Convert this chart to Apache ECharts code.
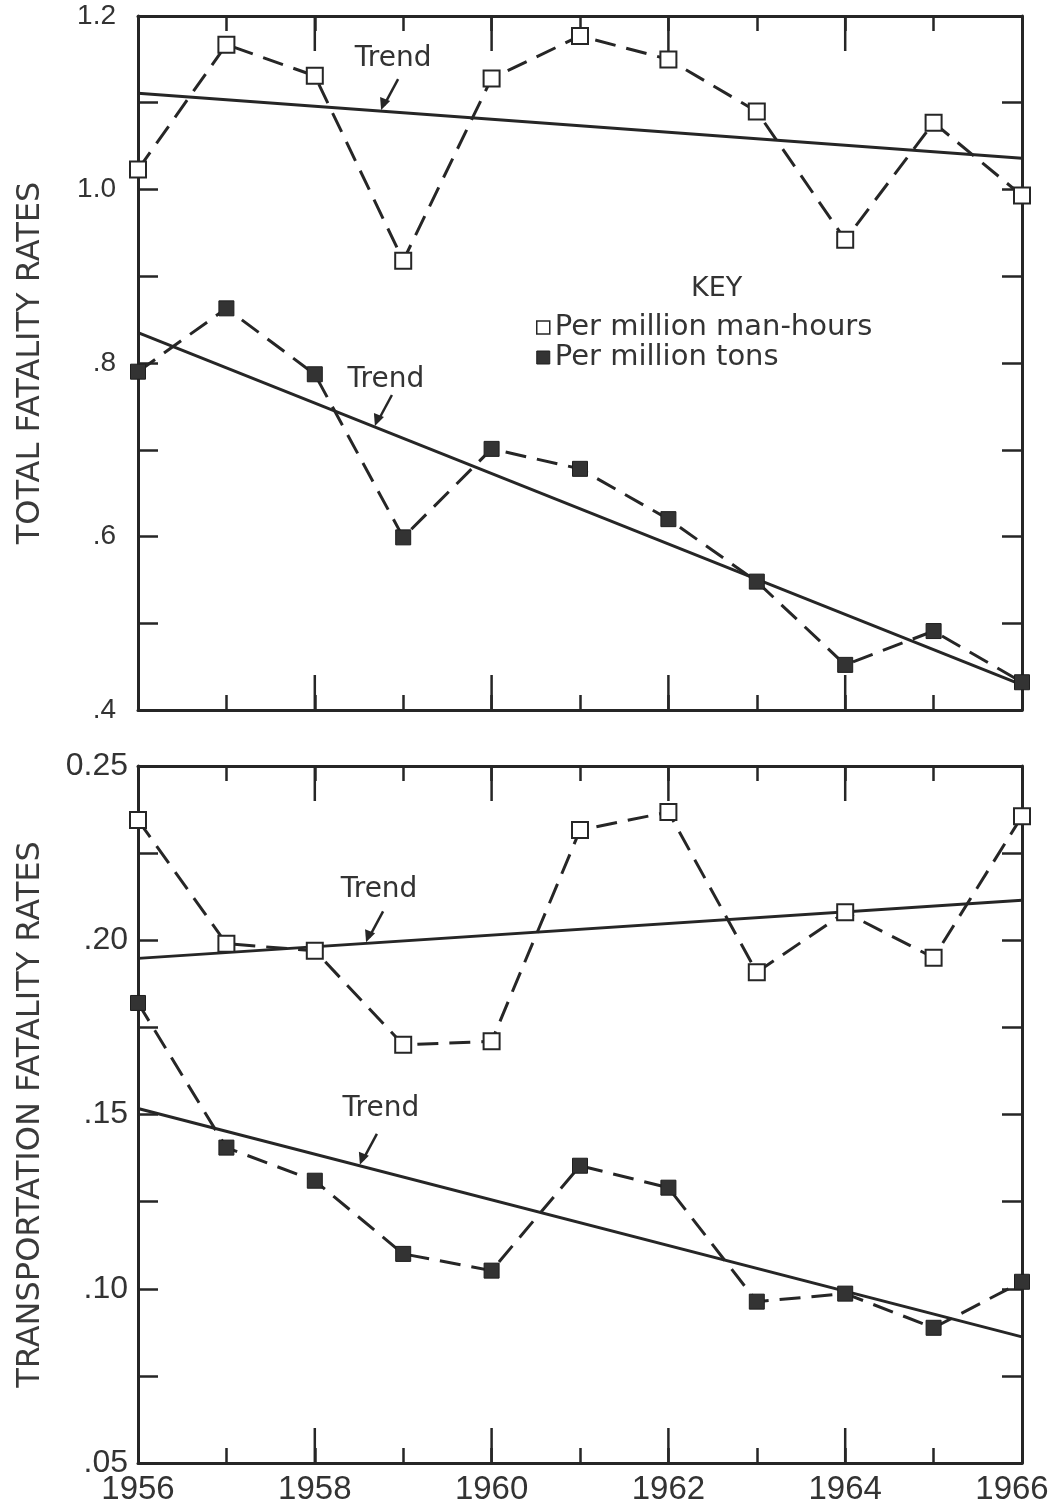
<!DOCTYPE html>
<html>
<head>
<meta charset="utf-8">
<script src="https://cdn.jsdelivr.net/npm/echarts@6/dist/echarts.min.js"></script>
<style>
  html, body { margin: 0; padding: 0; background: #fff; }
  #main { width: 1053px; height: 1509px; }
</style>
</head>
<body>
<div id="main"></div>
<script>
// data
var years = [1956, 1957, 1958, 1959, 1960, 1961, 1962, 1963, 1964, 1965, 1966];
var totalManHours = [1.023, 1.167, 1.131, 0.918, 1.128, 1.177, 1.150, 1.090, 0.942, 1.077, 0.993];
var totalTons = [0.790, 0.863, 0.787, 0.599, 0.701, 0.678, 0.620, 0.548, 0.452, 0.491, 0.432];
var totalTrendManHours = [1.111, 1.036];   // 1956, 1966
var totalTrendTons = [0.835, 0.429];
var transManHours = [0.2345, 0.199, 0.197, 0.170, 0.171, 0.2316, 0.2368, 0.1908, 0.208, 0.195, 0.2356];
var transTons = [0.182, 0.1405, 0.131, 0.110, 0.1052, 0.1353, 0.129, 0.0963, 0.0986, 0.0888, 0.102];
var transTrendManHours = [0.1948, 0.2115];
var transTrendTons = [0.1517, 0.0862];
var trendYears = [1956, 1966];
var longTickYears = [1958, 1960, 1962, 1964];

var ink = '#262626';
var font = 'DejaVu Sans';
var numFont = 'Liberation Sans';

function pairs(xs, ys) {
  return xs.map(function (x, i) { return [x, ys[i]]; });
}

var myChart = echarts.init(document.getElementById('main'));

function xAxisFor(grid, pos, showLabels) {
  return {
    type: 'value', gridIndex: grid, position: pos,
    min: 1956, max: 1966, interval: 1,
    axisLine: { show: true, onZero: false, lineStyle: { color: ink, width: 3 } },
    axisTick: { show: true, inside: true, length: 15, lineStyle: { color: ink, width: 2.5 } },
    splitLine: { show: false },
    axisLabel: {
      show: showLabels, color: '#333', fontFamily: numFont, fontSize: 33, margin: 10,
      formatter: function (v) {
        if (v % 2 !== 0) return '';
        return v === 1966 ? '{last|' + v + '}' : String(v);
      },
      rich: { last: { fontFamily: numFont, fontSize: 33, color: '#333', padding: [0, 20, 0, 0] } }
    }
  };
}

function yAxisFor(grid, pos, min, max, interval, fmt, size, margin, name) {
  return {
    type: 'value', gridIndex: grid, position: pos,
    min: min, max: max, interval: interval,
    name: name, nameLocation: 'middle', nameGap: 91, nameRotate: 90,
    nameTextStyle: { color: '#3a3a3a', fontFamily: font, fontSize: 32 },
    axisLine: { show: true, onZero: false, lineStyle: { color: ink, width: 3 } },
    axisTick: { show: true, inside: true, length: 20, lineStyle: { color: ink, width: 2.5 } },
    splitLine: { show: false },
    axisLabel: { show: pos === 'left', color: '#333', fontFamily: numFont, fontSize: size, margin: margin, formatter: fmt }
  };
}

function fmtTop(v) {
  if (Math.round(v * 10) % 2 !== 0) return '';
  var s = v.toFixed(1);
  return v < 1 ? s.slice(1) : s;
}
function fmtBottom(v) {
  if (Math.round(v * 1000) % 50 !== 0) return '';
  if (Math.abs(v - 0.25) < 1e-6) return '0.25';
  return v.toFixed(2).slice(1);
}

function dataSeries(name, x, y, values, open) {
  return {
    name: name, type: 'line', xAxisIndex: x, yAxisIndex: y,
    data: pairs(years, values),
    symbol: 'rect', symbolSize: open ? 16 : 15,
    itemStyle: open ? { color: '#fff', borderColor: ink, borderWidth: 2 } : { color: '#333', borderColor: '#1e1e1e', borderWidth: 1 },
    lineStyle: { color: ink, width: 3, type: [21, 11] },
    z: 3, animation: false
  };
}

function trendSeries(x, y, values) {
  return {
    name: 'Trend', type: 'line', xAxisIndex: x, yAxisIndex: y,
    data: pairs(trendYears, values),
    symbol: 'none', lineStyle: { color: ink, width: 3 },
    z: 2, animation: false
  };
}

var option = {
  backgroundColor: '#fff',
  animation: false,
  title: {
    text: 'KEY', left: 686, top: 270,
    textStyle: { color: '#333', fontFamily: font, fontSize: 27, fontWeight: 'normal' }
  },
  legend: {
    orient: 'vertical', left: 531, top: 308, itemGap: 1,
    itemWidth: 13, itemHeight: 13,
    textStyle: { color: '#333', fontFamily: font, fontSize: 29 },
    data: [
      { name: 'Per million man-hours', icon: 'rect', itemStyle: { color: '#fff', borderColor: ink, borderWidth: 1.5 } },
      { name: 'Per million tons', icon: 'rect', itemStyle: { color: '#333', borderColor: '#1e1e1e', borderWidth: 1 } }
    ]
  },
  grid: [
    { left: 138, right: 31, top: 16, height: 694, outerBoundsMode: 'none' },
    { left: 138, right: 31, top: 766, height: 697, outerBoundsMode: 'none' }
  ],
  xAxis: [
    xAxisFor(0, 'bottom', false),
    xAxisFor(0, 'top', false),
    xAxisFor(1, 'bottom', true),
    xAxisFor(1, 'top', false)
  ],
  yAxis: [
    yAxisFor(0, 'left', 0.4, 1.2, 0.1, fmtTop, 28, 22, 'TOTAL FATALITY RATES'),
    yAxisFor(0, 'right', 0.4, 1.2, 0.1, fmtTop, 28, 22, ''),
    yAxisFor(1, 'left', 0.05, 0.25, 0.025, fmtBottom, 32, 10, 'TRANSPORTATION FATALITY RATES'),
    yAxisFor(1, 'right', 0.05, 0.25, 0.025, fmtBottom, 32, 10, '')
  ],
  series: [
    trendSeries(0, 0, totalTrendManHours),
    trendSeries(0, 0, totalTrendTons),
    dataSeries('Per million man-hours', 0, 0, totalManHours, true),
    dataSeries('Per million tons', 0, 0, totalTons, false),
    trendSeries(2, 2, transTrendManHours),
    trendSeries(2, 2, transTrendTons),
    dataSeries('Per million man-hours', 2, 2, transManHours, true),
    dataSeries('Per million tons', 2, 2, transTons, false)
  ]
};

myChart.setOption(option);

var graphics = [];

// longer ticks at the even years, top and bottom edge of both panels
[0, 1].forEach(function (g) {
  var rect = myChart.getModel().getComponent('grid', g).coordinateSystem.getRect();
  longTickYears.forEach(function (yr) {
    var px = myChart.convertToPixel({ gridIndex: g }, [yr, 0])[0];
    graphics.push({ type: 'line', shape: { x1: px, y1: rect.y + rect.height, x2: px, y2: rect.y + rect.height - 35 }, style: { stroke: ink, lineWidth: 2.5 } });
    graphics.push({ type: 'line', shape: { x1: px, y1: rect.y, x2: px, y2: rect.y + 35 }, style: { stroke: ink, lineWidth: 2.5 } });
  });
});

// "Trend" callouts: arrow tip sits on the trend line at a given year
function trendAt(vals, yr) {
  return vals[0] + (vals[1] - vals[0]) * (yr - 1956) / 10;
}
var callouts = [
  { grid: 0, vals: totalTrendManHours, yr: 1958.75, tx: 12, ty: -38 },
  { grid: 0, vals: totalTrendTons, yr: 1958.68, tx: 11, ty: -33 },
  { grid: 1, vals: transTrendManHours, yr: 1958.58, tx: 13, ty: -40 },
  { grid: 1, vals: transTrendTons, yr: 1958.51, tx: 21, ty: -43 }
];
callouts.forEach(function (c) {
  var p = myChart.convertToPixel({ gridIndex: c.grid }, [c.yr, trendAt(c.vals, c.yr)]);
  var sx = p[0] + 17, sy = p[1] - 32;
  graphics.push({
    type: 'line', shape: { x1: sx, y1: sy, x2: p[0] + 3, y2: p[1] - 6 },
    style: { stroke: ink, lineWidth: 2.5 }, z: 10
  });
  graphics.push({
    type: 'polygon', shape: { points: [[p[0], p[1] - 1], [p[0] - 1, p[1] - 14], [p[0] + 9, p[1] - 10]] },
    style: { fill: ink }, z: 10
  });
  graphics.push({
    type: 'text', x: p[0] + c.tx, y: p[1] + c.ty,
    style: { text: 'Trend', fill: '#333', font: '28px "DejaVu Sans"', textAlign: 'center', textVerticalAlign: 'bottom' },
    z: 10
  });
});
myChart.setOption({ graphic: graphics });
</script>
</body>
</html>
